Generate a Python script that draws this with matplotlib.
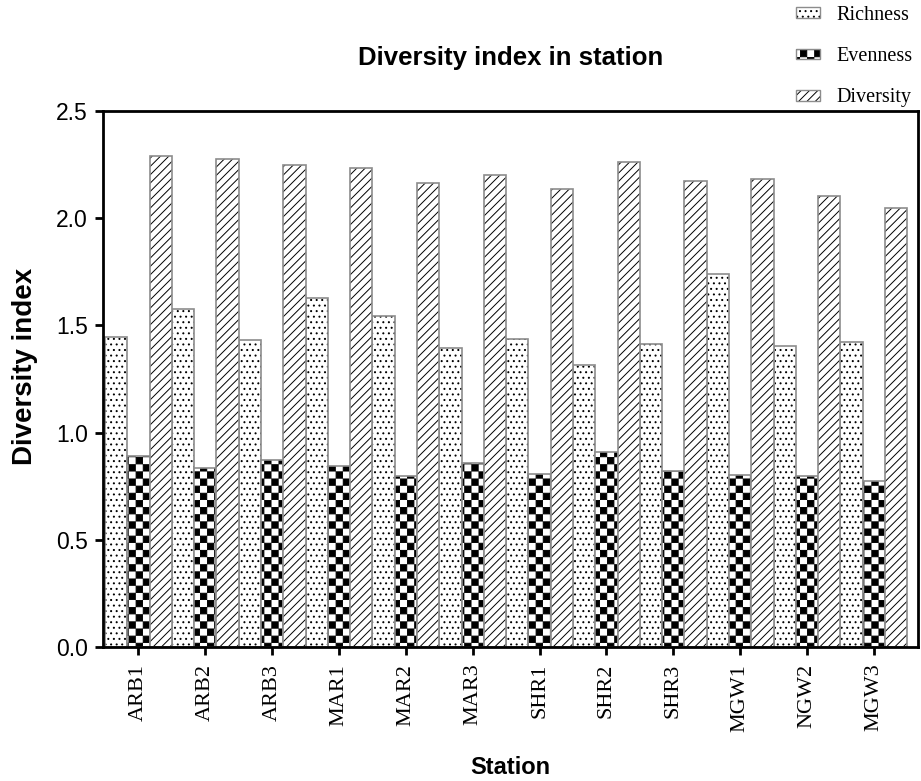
import warnings
import numpy as np
import matplotlib
matplotlib.use('Agg')
import matplotlib.pyplot as plt
import matplotlib.hatch as mhatch
from matplotlib.path import Path
from matplotlib.patches import Patch

warnings.filterwarnings('ignore')

stations = ['ARB1', 'ARB2', 'ARB3', 'MAR1', 'MAR2', 'MAR3',
            'SHR1', 'SHR2', 'SHR3', 'MGW1', 'NGW2', 'MGW3']
richness = [1.445, 1.577, 1.434, 1.627, 1.546, 1.396,
            1.437, 1.316, 1.412, 1.738, 1.404, 1.421]
evenness = [0.891, 0.836, 0.873, 0.844, 0.798, 0.857,
            0.806, 0.908, 0.822, 0.802, 0.796, 0.774]
diversity = [2.291, 2.275, 2.247, 2.233, 2.166, 2.203,
             2.135, 2.261, 2.173, 2.181, 2.105, 2.046]
series = ['Richness', 'Evenness', 'Diversity']


# checkerboard hatch for 'c' (matplotlib has none built in)
class CheckerHatch(mhatch.HatchPatternBase):
    def __init__(self, hatch, density):
        self.num = hatch.count('c') * 14
        self.num_vertices = (self.num * self.num // 2) * 5

    def set_vertices_and_codes(self, vertices, codes):
        step = 1.0 / self.num
        ins = 0.004
        k = 0
        for i in range(self.num):
            for j in range(self.num):
                if (i + j) % 2:
                    continue
                x0, x1 = i * step + ins, (i + 1) * step - ins
                y0, y1 = j * step + ins, (j + 1) * step - ins
                vertices[k:k + 5] = [(x0, y0), (x1, y0), (x1, y1), (x0, y1), (x0, y0)]
                codes[k:k + 5] = [Path.MOVETO, Path.LINETO, Path.LINETO,
                                  Path.LINETO, Path.CLOSEPOLY]
                k += 5


mhatch._hatch_types.append(CheckerHatch)

plt.rcParams['hatch.linewidth'] = 0.7
sans = 'Liberation Sans'
serif = 'Liberation Serif'

fig = plt.figure(figsize=(9.21, 7.81), dpi=100)
ax = fig.add_axes([103 / 921, 1 - 647 / 781, (918 - 103) / 921, (647 - 111) / 781])

x = np.arange(len(stations))
w = 1 / 3
offsets = [-w, 0, w]
hatches = ['...', 'c', '////']
edge = '#8c8c8c'

handles = []
for vals, off, h in zip([richness, evenness, diversity], offsets, hatches):
    ax.bar(x + off, vals, width=w, color='white', edgecolor='black',
           hatch=h, linewidth=0)
    ax.bar(x + off, vals, width=w, color='none', edgecolor=edge, linewidth=1.2)
    handles.append((Patch(facecolor='white', edgecolor='black', hatch=h, linewidth=0),
                    Patch(facecolor='none', edgecolor=edge, linewidth=1.0)))

ax.set_xlim(-0.53, 11.66)
ax.set_ylim(0, 2.5)
ax.set_yticks([0, 0.5, 1.0, 1.5, 2.0, 2.5])
ax.set_yticklabels(['0.0', '0.5', '1.0', '1.5', '2.0', '2.5'], fontfamily=sans, fontsize=16.5)
ax.set_xticks(x)
ax.set_xticklabels(stations, rotation=90, fontfamily=serif, fontsize=16)

for s in ax.spines.values():
    s.set_linewidth(2.0)
ax.tick_params(axis='both', direction='out', length=6, width=2.0)
ax.tick_params(axis='y', pad=5)
ax.tick_params(axis='x', pad=6)

fig.text(0.554, 1 - 58 / 781, 'Diversity index in station', ha='center', va='center',
         fontfamily=sans, fontweight='bold', fontsize=18.5)
fig.text(25 / 921, 1 - 366 / 781, 'Diversity index', rotation=90, ha='center', va='center',
         fontfamily=sans, fontweight='bold', fontsize=20)
fig.text(0.554, 1 - 767 / 781, 'Station', ha='center', va='center',
         fontfamily=sans, fontweight='bold', fontsize=17)

fig.legend(handles, series, loc='upper left', bbox_to_anchor=(796 / 921, 1 - 6 / 781),
           frameon=False, borderpad=0, borderaxespad=0, prop={'family': serif, 'size': 14.5},
           handlelength=1.2, handleheight=0.45, handletextpad=0.8, labelspacing=1.1)

fig.savefig('out.png', dpi=100)
